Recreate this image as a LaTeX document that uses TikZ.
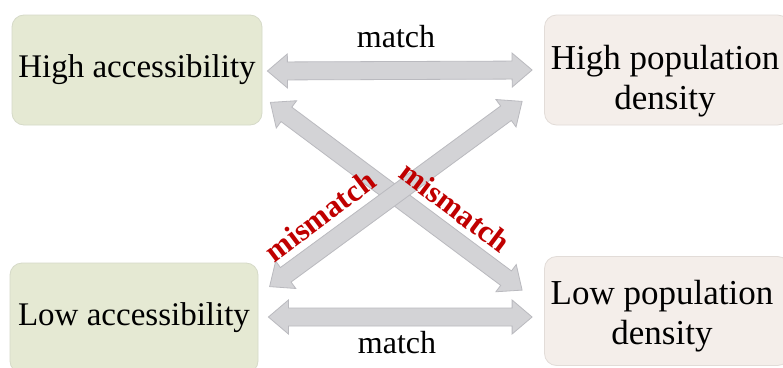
\documentclass[tikz,border=0pt]{standalone}
\usepackage{fontspec}
\setmainfont{Liberation Serif}
\usetikzlibrary{calc}
\usepackage{xcolor}
\definecolor{accgreen}{RGB}{229, 233, 211}
\definecolor{accline}{RGB}{214, 218, 200}
\definecolor{poppink}{RGB}{244, 238, 234}
\definecolor{popline}{RGB}{226, 220, 216}
\definecolor{arrgray}{RGB}{211, 211, 214}
\definecolor{arrline}{RGB}{186, 186, 191}
\definecolor{misred}{RGB}{192, 0, 0}
\tikzset{
  accbox/.style={
    rectangle, rounded corners=12pt,
    draw=accline, fill=accgreen, line width=0.8pt,
    minimum width=250pt, minimum height=110pt, inner sep=0pt,
    font=\fontsize{33}{40}\selectfont
  },
  popbox/.style={
    rectangle, rounded corners=12pt,
    draw=popline, fill=poppink, line width=0.8pt,
    minimum width=245pt, minimum height=110pt, inner sep=0pt
  },
  poptext/.style={align=center, inner sep=0pt, font=\fontsize{35}{40}\selectfont},
  blockarr/.style={draw=arrline, fill=arrgray, line width=0.8pt},
  matchlab/.style={font=\fontsize{32}{38}\selectfont, anchor=base},
  mislab/.style={font=\fontsize{31}{36}\selectfont\bfseries, text=misred, inner sep=0pt},
}
% double block arrow between two named points
\newcommand{\dblarrow}[2]{%
  \coordinate (ha) at ($(#1)!20pt!(#2)$);
  \coordinate (hb) at ($(#2)!20pt!(#1)$);
  \draw[blockarr] (#1) -- ($(ha)!17pt!90:(#2)$) -- ($(ha)!9pt!90:(#2)$)
    -- ($(hb)!9pt!-90:(#1)$) -- ($(hb)!17pt!-90:(#1)$) -- (#2)
    -- ($(hb)!17pt!90:(#1)$) -- ($(hb)!9pt!90:(#1)$)
    -- ($(ha)!9pt!-90:(#2)$) -- ($(ha)!17pt!-90:(#2)$) -- cycle;}

\begin{document}
\begin{tikzpicture}[x=1pt, y=-1pt]
    \useasboundingbox (0,0) rectangle (783,367);
    \fill[white] (0,0) rectangle (783,367);

    \node[accbox] (hacc) at (137,70) {High accessibility};
    \node[popbox] (hpop) at (667,70) {};
    \node[poptext] (hpoptxt) at ($(hpop.center)+(-2,11)$) {High population\\density};
    \node[accbox, minimum width=248pt] (lacc) at (134,318) {Low accessibility};
    \node[popbox, minimum height=109pt] (lpop) at (667,311) {};
    \node[poptext] (lpoptxt) at ($(lpop.center)+(-5,5)$) {Low population\\density};

    % arrow ends
    \coordinate (hm1) at ($(hacc.east)+(5,1)$);
    \coordinate (hm2) at ($(hpop.west)+(-12,0)$);
    \coordinate (lm1) at ($(lacc.east)+(10,-1)$);
    \coordinate (lm2) at ($(lpop.west)+(-12,6)$);
    \coordinate (dg1) at ($(hacc.south east)+(8,-23)$);
    \coordinate (dg2) at ($(lpop.north west)+(-22,34)$);
    \coordinate (dg3) at ($(hpop.south west)+(-22,-24)$);
    \coordinate (dg4) at ($(lacc.north west)+(260,24)$);

    \dblarrow{dg1}{dg2}
    \dblarrow{dg4}{dg3}
    \dblarrow{hm1}{hm2}
    \dblarrow{lm1}{lm2}

    \node[matchlab] (tmatch) at (396,47) {match};
    \node[matchlab] (bmatch) at (397,353) {match};
    \node[mislab, rotate=37] (lmis) at (320,216) {mismatch};
    \node[mislab, rotate=-37] (rmis) at (455,207) {mismatch};
\end{tikzpicture}
\end{document}
